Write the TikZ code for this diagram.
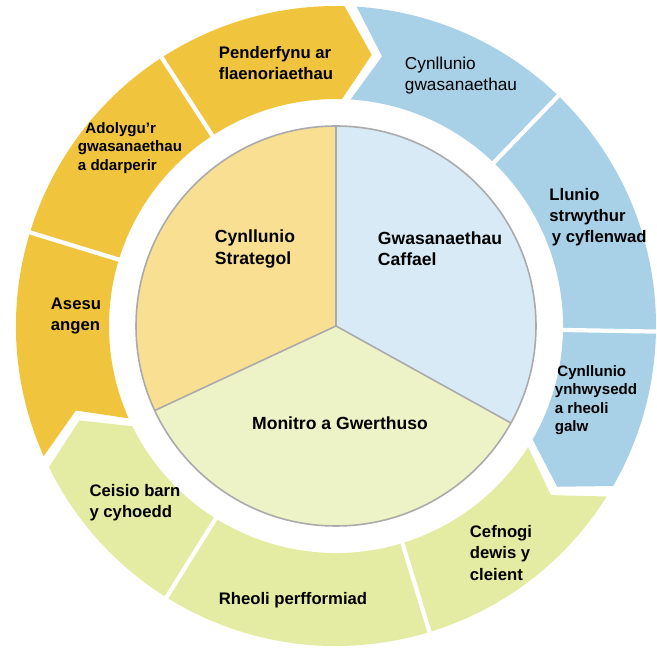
\documentclass[tikz,border=0pt]{standalone}
\usepackage{fontspec}
\setmainfont{Liberation Sans}

\definecolor{ringyellow}{RGB}{241,196,62}
\definecolor{hubyellow}{RGB}{248,223,145}
\definecolor{ringblue}{RGB}{168,208,230}
\definecolor{hubblue}{RGB}{215,234,245}
\definecolor{ringgreen}{RGB}{227,236,162}
\definecolor{hubgreen}{RGB}{237,243,199}
\definecolor{hubline}{RGB}{170,170,172}

% one arrow shaped part of the ring, from angle #1 clockwise to angle #2
\newcommand{\ringpart}[3]{%
    \fill[#3] (#1:6.4) arc[start angle=#1, end angle=#2, radius=6.4]
        -- ({#2-6}:5.47) -- (#2:4.54) arc[start angle=#2, end angle=#1, radius=4.54]
        -- ({#1-6}:5.47) -- cycle;
}

\tikzset{
    ringtext/.style={font=\bfseries\fontsize{9.5}{12}\selectfont, align=left, inner sep=0pt},
    smalltext/.style={font=\bfseries\fontsize{8.6}{10.5}\selectfont, align=left, inner sep=0pt},
    hubtext/.style={font=\bfseries\fontsize{10}{12.2}\selectfont, align=left, inner sep=0pt},
    cut/.style={white, line width=2.4pt},
    diskline/.style={hubline, line width=0.9pt}
}

\begin{document}
\begin{tikzpicture}
        \useasboundingbox (-6.72, -6.56) rectangle (6.42, 6.52);
        \coordinate (hub) at (0, 0);

        % outer ring
        \ringpart{204}{88.5}{ringyellow}
        \ringpart{86.3}{-30}{ringblue}
        \ringpart{-32.2}{-153.8}{ringgreen}
        \foreach \a in {163, 123, 46, -1, -73, -122}{
            \draw[cut] (\a:4.4) -- (\a:6.6);
        }

        % inner disk
        \fill[hubblue] (hub) -- (90:4) arc[start angle=90, end angle=-29, radius=4] -- cycle;
        \fill[hubgreen] (hub) -- (-29:4) arc[start angle=-29, end angle=-155, radius=4] -- cycle;
        \fill[hubyellow] (hub) -- (205:4) arc[start angle=205, end angle=90, radius=4] -- cycle;
        \foreach \a in {90, 205, -29}{
            \draw[diskline] (hub) -- (\a:4);
        }
        \draw[diskline] (hub) circle (4);

        \node[hubtext] (strategol) at (-1.62, 1.54) {Cynllunio\\Strategol};
        \node[hubtext] (caffael) at (2.08, 1.54) {Gwasanaethau\\Caffael};
        \node[hubtext] (monitro) at (0.08, -1.94) {Monitro a Gwerthuso};

        \node[ringtext] (penderfynu) at (-1.2, 5.26) {Penderfynu ar\\flaenoriaethau};
        \node[smalltext] (adolygu) at (-4.12, 3.56) {\hspace{0.15cm}Adolygu'r\\gwasanaethau\\a ddarperir};
        \node[ringtext] (asesu) at (-5.2, 0.2) {Asesu\\angen};
        \node[ringtext, font=\fontsize{9.8}{12}\selectfont] (cynllgwas) at (2.5, 5.0) {Cynllunio\\gwasanaethau};
        \node[ringtext] (llunio) at (5.24, 2.18) {Llunio\\strwythur\\\hspace{0.05cm}y cyflenwad};
        \node[smalltext] (ynhwysedd) at (5.2, -1.48) {\hspace{0.05cm}Cynllunio\\ynhwysedd\\a rheoli\\galw};
        \node[ringtext] (cefnogi) at (3.3, -4.54) {Cefnogi\\dewis y\\cleient};
        \node[ringtext] (rheoli) at (-0.86, -5.48) {Rheoli perfformiad};
        \node[ringtext] (ceisio) at (-4.02, -3.54) {Ceisio barn\\y cyhoedd};
    \end{tikzpicture}
\end{document}
